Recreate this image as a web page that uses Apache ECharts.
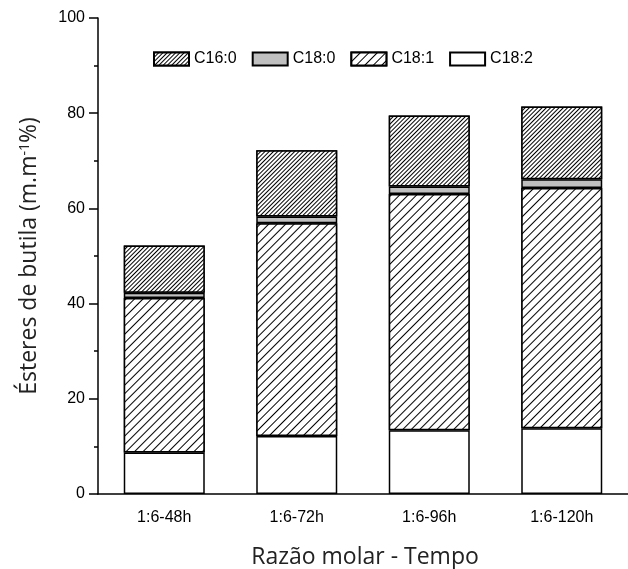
<!DOCTYPE html>
<html>
<head>
<meta charset="utf-8">
<script src="https://cdn.jsdelivr.net/npm/echarts@6/dist/echarts.min.js"></script>
<style>
  html, body { margin: 0; padding: 0; background: #fff; }
  #chart { width: 628px; height: 569px; }
</style>
</head>
<body>
<div id="chart"></div>
<script>
// Butyl ester composition per molar ratio / reaction time (stacked, %)
const categories = ['1:6-48h', '1:6-72h', '1:6-96h', '1:6-120h'];
const c182 = [8.7, 12.2, 13.4, 13.8];
const c181 = [32.5, 44.7, 49.6, 50.5];
const c180 = [1.1, 1.4, 1.6, 1.8];
const c160 = [9.9, 13.9, 14.9, 15.3];
const yTicks = [0, 20, 40, 60, 80, 100];

const tickFont = 'Liberation Sans, Arial, sans-serif';
const titleFont = 'Open Sans, Noto Sans, sans-serif';

const hatchSparse = {
  symbol: 'rect', symbolSize: 1, color: '#000', backgroundColor: '#fff',
  dashArrayX: [1, 0], dashArrayY: [1, 5], rotation: -Math.PI / 4
};
const hatchDense = {
  symbol: 'rect', symbolSize: 1, color: '#000', backgroundColor: '#fff',
  dashArrayX: [1, 0], dashArrayY: [1, 2], rotation: -Math.PI / 4
};

function barSeries(name, data, fill, decal) {
  return {
    name: name,
    type: 'bar',
    stack: 'total',
    barWidth: 81,
    data: data,
    itemStyle: {
      color: fill,
      borderColor: '#000',
      borderWidth: 1.5,
      decal: decal || null
    },
    emphasis: { disabled: true }
  };
}

const chart = echarts.init(document.getElementById('chart'), null, { renderer: 'canvas' });
chart.setOption({
  animation: false,
  backgroundColor: '#fff',
  title: {
    text: 'Razão molar - Tempo',
    left: 360,
    top: 541,
    textAlign: 'center',
    textStyle: { fontFamily: titleFont, fontSize: 23, fontWeight: 'normal', color: '#222' }
  },
  legend: {
    left: 148,
    top: 46,
    itemWidth: 35,
    itemHeight: 13,
    itemGap: 15,
    icon: 'rect',
    data: ['C16:0', 'C18:0', 'C18:1', 'C18:2'],
    textStyle: { fontFamily: tickFont, fontSize: 16, color: '#000' }
  },
  grid: { left: 98, top: 18, width: 533, height: 476, containLabel: false },
  xAxis: [
    {
      type: 'category',
      data: categories,
      axisLine: { lineStyle: { color: '#000', width: 1.5 } },
      axisTick: { alignWithLabel: true, length: 9, lineStyle: { color: '#000', width: 1.5 } },
      axisLabel: { fontFamily: tickFont, fontSize: 16, color: '#000', margin: 16 }
    },
    {
      type: 'category',
      data: categories,
      position: 'bottom',
      axisLine: { show: false },
      axisTick: { length: 4, lineStyle: { color: '#000', width: 1.5 } },
      axisLabel: { show: false }
    }
  ],
  yAxis: {
    type: 'value',
    min: yTicks[0],
    max: yTicks[yTicks.length - 1],
    interval: yTicks[1] - yTicks[0],
    name: 'Ésteres de butila (m.m{sup|-1}%)',
    nameLocation: 'middle',
    nameGap: 57,
    nameTextStyle: {
      fontFamily: titleFont, fontSize: 23, color: '#222',
      rich: {
        sup: { fontFamily: titleFont, fontSize: 14, color: '#222', verticalAlign: 'top' }
      }
    },
    axisLine: { show: true, lineStyle: { color: '#000', width: 1.5 } },
    axisTick: { show: true, length: 9, lineStyle: { color: '#000', width: 1.5 } },
    minorTick: { show: true, splitNumber: 2, length: 4, lineStyle: { color: '#000', width: 1.5 } },
    splitLine: { show: false },
    axisLabel: { fontFamily: tickFont, fontSize: 16, color: '#000', margin: 13 }
  },
  series: [
    barSeries('C18:2', c182, '#fff'),
    barSeries('C18:1', c181, '#fff', hatchSparse),
    barSeries('C18:0', c180, '#c0c0c0'),
    barSeries('C16:0', c160, '#fff', hatchDense)
  ]
});
</script>
</body>
</html>
